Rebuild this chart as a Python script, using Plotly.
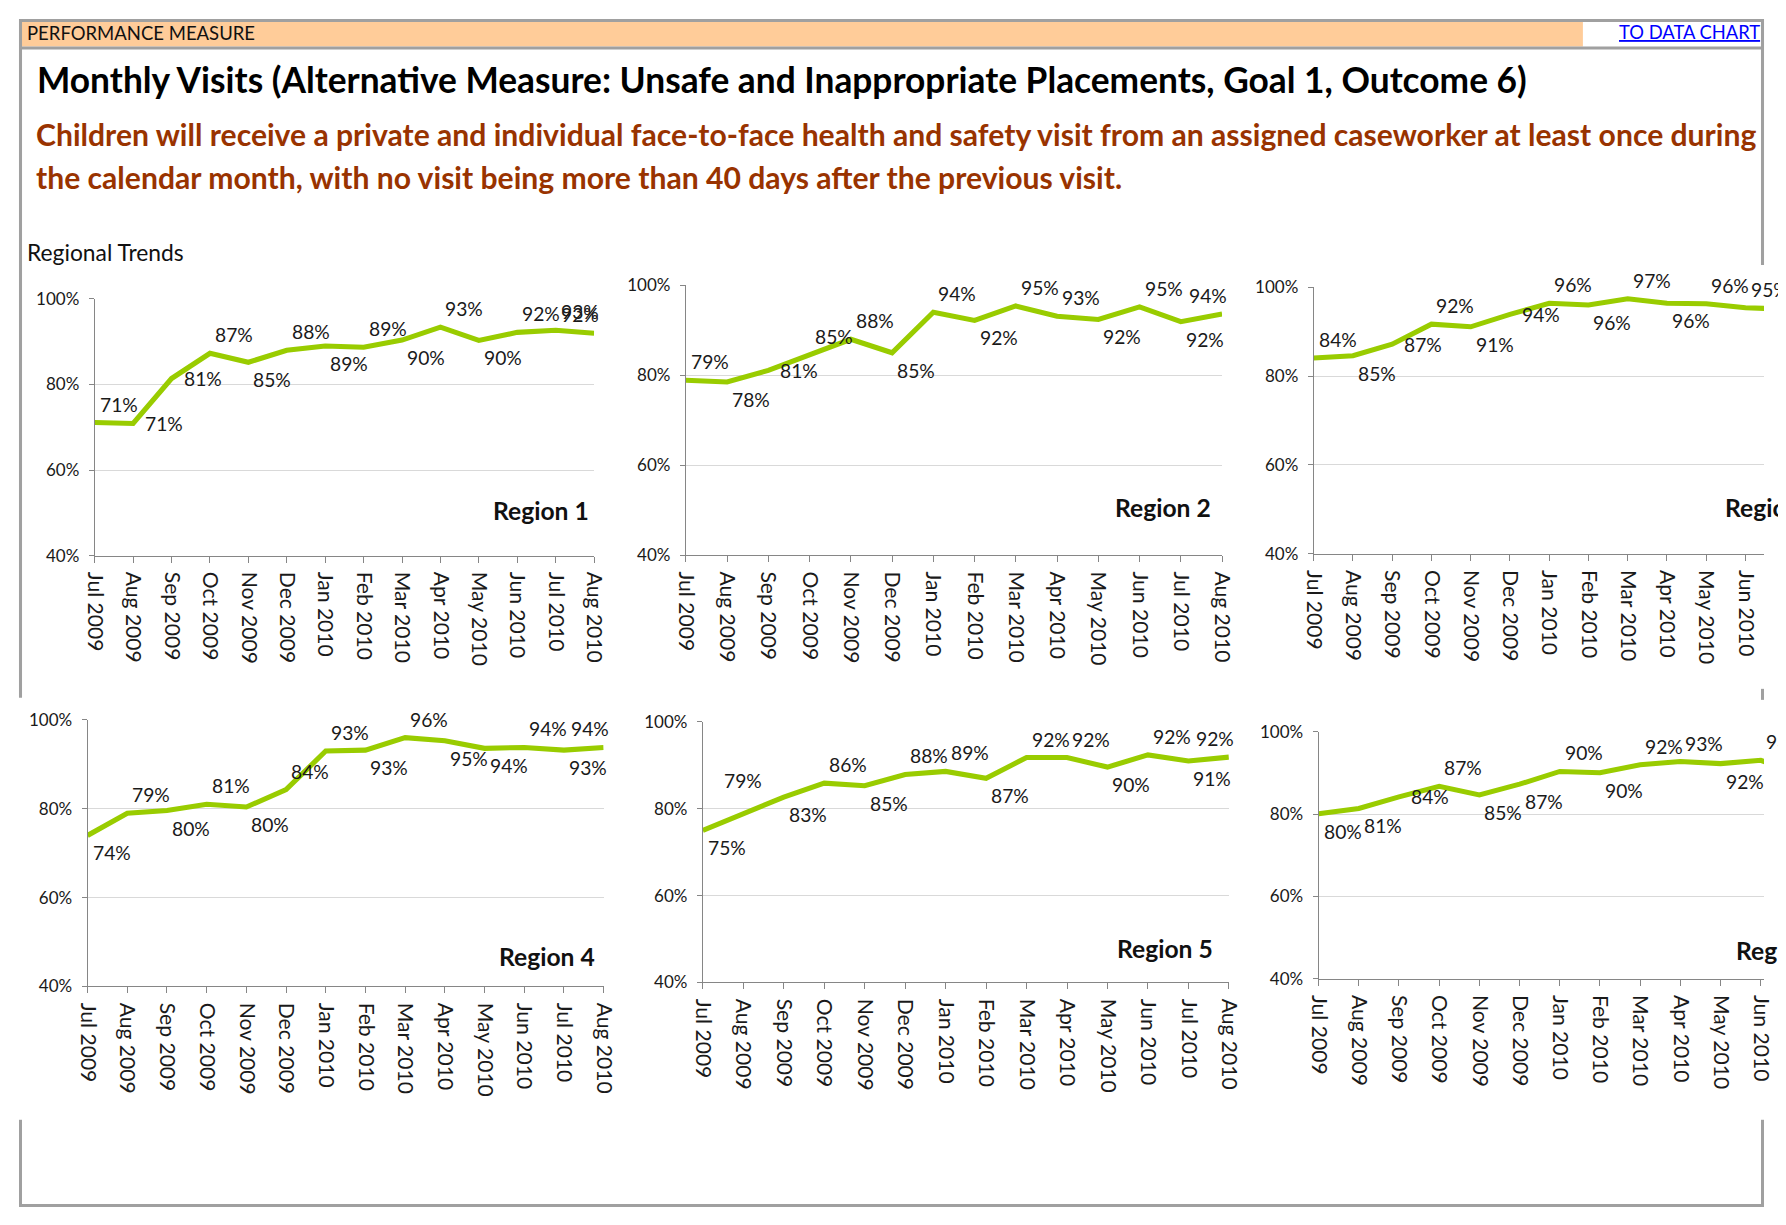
import plotly.graph_objects as go

# ---------------- data ----------------
months = ["Jul 2009", "Aug 2009", "Sep 2009", "Oct 2009", "Nov 2009", "Dec 2009",
          "Jan 2010", "Feb 2010", "Mar 2010", "Apr 2010", "May 2010", "Jun 2010",
          "Jul 2010", "Aug 2010"]

region_names = ["Region 1", "Region 2", "Region 3", "Region 4", "Region 5", "Region 6"]

region1 = [71.1, 70.9, 81.4, 87.3, 85.2, 88.0, 89.0, 88.7, 90.4, 93.4, 90.3, 92.2, 92.7, 92.0]
region2 = [78.9, 78.5, 81.1, 84.6, 88.0, 85.0, 94.0, 92.2, 95.4, 93.1, 92.4, 95.2, 91.9, 93.6]
region3 = [84.1, 84.6, 87.2, 91.7, 91.1, 93.9, 96.4, 96.0, 97.4, 96.4, 96.3, 95.4, 95.1, 95.0]
region4 = [74.0, 79.0, 79.6, 81.0, 80.4, 84.3, 93.0, 93.2, 96.0, 95.3, 93.6, 93.8, 93.2, 93.8]
region5 = [75.0, 78.7, 82.7, 85.9, 85.3, 87.9, 88.6, 87.0, 91.8, 91.8, 89.6, 92.4, 91.0, 91.9]
region6 = [80.1, 81.4, 84.2, 86.8, 84.7, 87.3, 90.4, 90.1, 92.0, 92.8, 92.3, 93.1, 89.6, 90.0]

y_ticks = [40, 60, 80, 100]
y_tick_labels = ["40%", "60%", "80%", "100%"]

# label placement codes (style): a=above-right, b=below-right, r=right,
# al=above-left, ac=above-centre
pos1 = ['a', 'r', 'r', 'a', 'b', 'a', 'b', 'a', 'b', 'a', 'b', 'a', 'a', 'al']
pos2 = ['a', 'b', 'r', 'a', 'a', 'b', 'a', 'b', 'a', 'a', 'b', 'a', 'b', 'al']
pos3 = ['a', 'b', 'r', 'a', 'b', 'r', 'a', 'b', 'a', 'b', 'a', 'a', 'a', 'a']
pos4 = ['b', 'a', 'b', 'a', 'b', 'a', 'a', 'b', 'a', 'b', 'b', 'a', 'b', 'al']
pos5 = ['b', 'ac', 'b', 'a', 'b', 'a', 'a', 'b', 'a', 'a', 'b', 'a', 'b', 'al']
pos6 = ['b', 'b', 'r', 'a', 'b', 'b', 'a', 'b', 'a', 'a', 'b', 'a', 'a', 'a']

series = [region1, region2, region3, region4, region5, region6]
positions = [pos1, pos2, pos3, pos4, pos5, pos6]

# ---------------- layout geometry ----------------
# In the photographed page the figure sits about (PX, PY) px from the corner
# and is shown at a scale of (SX, SY); every coordinate below is given in
# picture pixels and converted by fx/fy, sizes by Z.
W, H = 1770, 1209
SX, SY = 0.9858, 0.9805
PX, PY = 19.5, 20.0
X_MIN, X_MAX = PX * SX, (W + PX) * SX
Y_MIN, Y_MAX = PY * SY, (H + PY) * SY


def fx(c):
    return (c / SX - PX) / W


def fy(c):
    return 1 - (c / SY - PY) / H


def Z(v):
    return v / SX


FONT = "Lato"
GREEN = "#99CC00"
AXIS = "#868686"
GRID = "#D9D9D9"
TXT = "#1a1a1a"

# plot boxes in picture pixels: left, right (full, may exceed page), top (100%), bottom (40%)
panels = [
    (94.9, 594.3, 299.0, 555.0),
    (686.0, 1222.2, 285.3, 554.7),
    (1313.8, 1824.1, 287.3, 553.3),
    (87.8, 603.8, 719.0, 985.0),
    (703.0, 1229.0, 721.0, 981.0),
    (1318.7, 1841.3, 731.0, 977.3),
]
# region label anchor (x, y, xanchor) in picture pixels
region_label_pos = [
    (591, 510, 'right'), (1213, 507, 'right'), (1723, 507, 'left'),
    (597, 955, 'right'), (1215, 947, 'right'), (1734, 949, 'left'),
]

label_style = {
    'a': dict(xanchor='left', yanchor='bottom', xshift=3, yshift=5),
    'b': dict(xanchor='left', yanchor='top', xshift=3, yshift=-4),
    'r': dict(xanchor='left', yanchor='middle', xshift=10, yshift=0),
    'al': dict(xanchor='right', yanchor='bottom', xshift=7, yshift=5),
    'ac': dict(xanchor='center', yanchor='bottom', xshift=0, yshift=20),
}

fig = go.Figure()
annotations = []
layout_axes = {}
n_cat = len(months) - 1

for i, (vals, pos) in enumerate(zip(series, positions)):
    k = i + 1
    xs = 'x' if k == 1 else f'x{k}'
    ys = 'y' if k == 1 else f'y{k}'
    left, right_full, top, bottom = panels[i]
    right_vis = min(right_full, X_MAX)
    xmax = n_cat * (right_vis - left) / (right_full - left)

    fig.add_trace(go.Scatter(
        x=months, y=vals, mode='lines', xaxis=xs, yaxis=ys,
        line=dict(color=GREEN, width=Z(5)), hoverinfo='skip', showlegend=False))

    layout_axes['xaxis' if k == 1 else f'xaxis{k}'] = dict(
        domain=[fx(left), min(1.0, fx(right_vis))], anchor=ys, type='category',
        categoryorder='array', categoryarray=months, range=[0, xmax],
        showgrid=False, zeroline=False, showline=True, linecolor=AXIS, linewidth=1,
        ticks='outside', ticklen=6, tickcolor=AXIS, tickwidth=1, tickangle=90,
        tickfont=dict(family=FONT, size=Z(20.8), color=TXT), ticklabelstandoff=5,
        fixedrange=True)
    layout_axes['yaxis' if k == 1 else f'yaxis{k}'] = dict(
        domain=[fy(bottom), fy(top)], anchor=xs, range=[40, 100],
        tickmode='array', tickvals=y_ticks, ticktext=y_tick_labels,
        showgrid=True, gridcolor=GRID, gridwidth=1,
        zeroline=False, showline=True, linecolor=AXIS, linewidth=1,
        ticks='outside', ticklen=5, tickcolor=AXIS, tickwidth=1,
        tickfont=dict(family=FONT, size=Z(16.75), color=TXT), ticklabelstandoff=6,
        fixedrange=True)

    for m, v, p in zip(months, vals, pos):
        annotations.append(dict(
            x=m, y=v, xref=xs, yref=ys, text=f"{round(v)}%", showarrow=False,
            font=dict(family=FONT, size=Z(19), color=TXT), **label_style[p]))

    rx, ry, ra = region_label_pos[i]
    annotations.append(dict(
        x=fx(rx), y=fy(ry), xref='paper', yref='paper', xanchor=ra, yanchor='middle',
        text=region_names[i], showarrow=False,
        font=dict(family=FONT, size=Z(24.3), color="#111111", weight='bold')))

# header / page text
annotations += [
    dict(x=fx(25), y=fy(34), xref='paper', yref='paper', xanchor='left', yanchor='middle',
         text="PERFORMANCE MEASURE", showarrow=False,
         font=dict(family=FONT, size=Z(18.25), color="#111111")),
    dict(x=fx(X_MAX - 2), y=fy(33), xref='paper', yref='paper', xanchor='right', yanchor='middle',
         text="TO DATA CHART", showarrow=False,
         font=dict(family=FONT, size=Z(18.1), color="#0000FF", lineposition='under')),
    dict(x=fx(35), y=fy(80), xref='paper', yref='paper', xanchor='left', yanchor='middle',
         text="Monthly Visits (Alternative Measure: Unsafe and Inappropriate Placements, Goal 1, Outcome 6)",
         showarrow=False, font=dict(family=FONT, size=Z(34.8), color="#000000", weight='bold')),
    dict(x=fx(34), y=fy(134), xref='paper', yref='paper', xanchor='left', yanchor='middle',
         text="Children will receive a private and individual face-to-face health and safety visit from an assigned caseworker at least once during",
         showarrow=False, font=dict(family=FONT, size=Z(29.7), color="#993300", weight='bold')),
    dict(x=fx(34), y=fy(177), xref='paper', yref='paper', xanchor='left', yanchor='middle',
         text="the calendar month, with no visit being more than 40 days after the previous visit.",
         showarrow=False, font=dict(family=FONT, size=Z(29.7), color="#993300", weight='bold')),
    dict(x=fx(25), y=fy(252), xref='paper', yref='paper', xanchor='left', yanchor='middle',
         text="Regional Trends", showarrow=False,
         font=dict(family=FONT, size=Z(22.5), color="#111111")),
]

BORDER = "#A0A0A0"


def hline(x0, x1, y):
    return dict(type='line', xref='paper', yref='paper', x0=fx(x0), x1=fx(x1),
                y0=fy(y), y1=fy(y), line=dict(color=BORDER, width=Z(3)))


def vline(x, y0, y1):
    return dict(type='line', xref='paper', yref='paper', x0=fx(x), x1=fx(x),
                y0=fy(y0), y1=fy(y1), line=dict(color=BORDER, width=Z(3)))


L, R, T, B = X_MIN + 1.5, X_MAX - 1.5, Y_MIN + 1.5, Y_MAX - 1.5
shapes = [
    dict(type='rect', xref='paper', yref='paper', x0=fx(L + 1.5), x1=fx(1583),
         y0=fy(47), y1=fy(T + 1.5), fillcolor="#FFCC99", line=dict(width=0), layer='below'),
    hline(X_MIN, X_MAX, T),
    hline(X_MIN, X_MAX, 48.5),
    hline(X_MIN, X_MAX, B),
    vline(L, Y_MIN, 697),
    vline(L, 1118, Y_MAX),
    vline(R, Y_MIN, 265),
    vline(R, 688, 699),
    vline(R, 1118, Y_MAX),
]

fig.update_layout(
    width=W, height=H, margin=dict(l=0, r=0, t=0, b=0, pad=0),
    paper_bgcolor='white', plot_bgcolor='white',
    font=dict(family=FONT, color=TXT),
    showlegend=False, annotations=annotations, shapes=shapes,
    **layout_axes)

fig.write_html("out.html", config={'displayModeBar': False})
